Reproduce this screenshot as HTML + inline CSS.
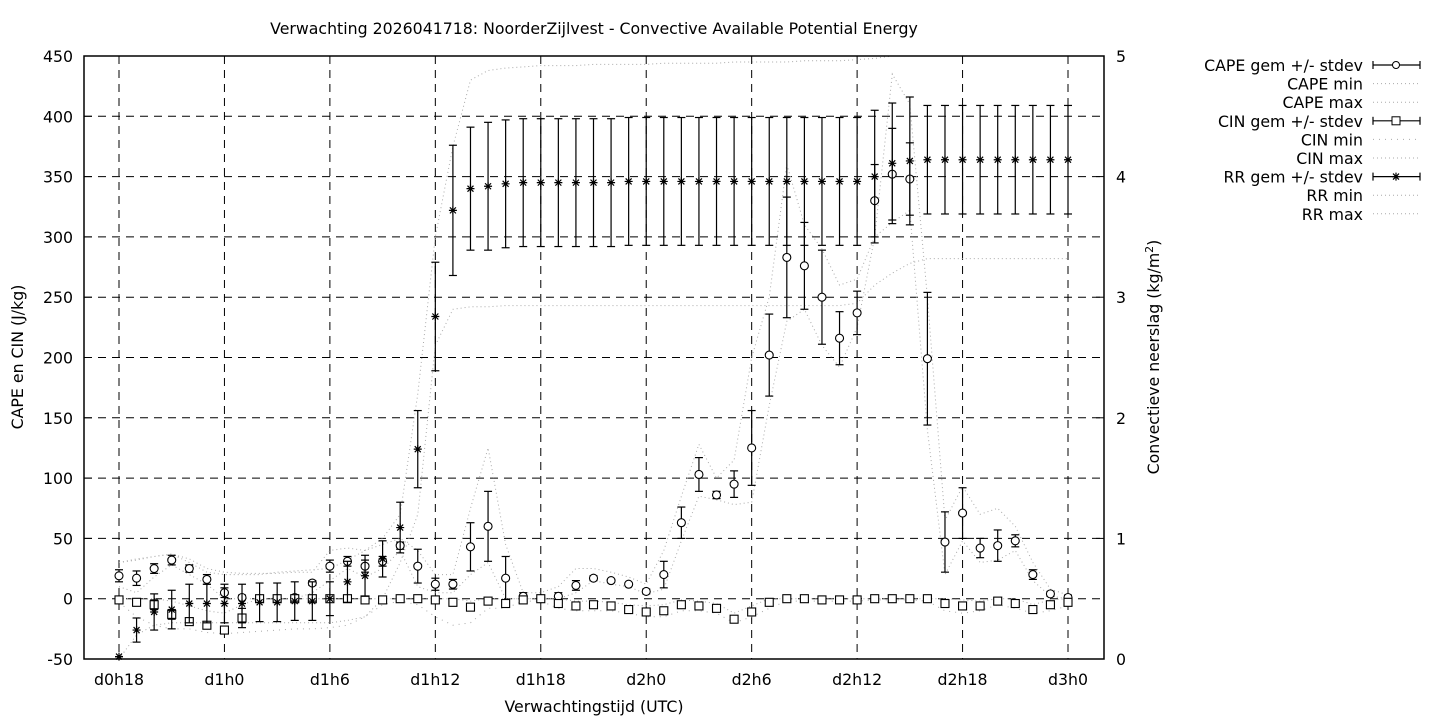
<!DOCTYPE html>
<html><head><meta charset="utf-8"><style>
body{margin:0;background:#fff;width:1440px;height:720px;overflow:hidden}
svg{font-family:"DejaVu Sans","Liberation Sans",sans-serif;font-size:15.75px}
</style></head><body>
<svg id="chart" width="1440" height="720" xmlns="http://www.w3.org/2000/svg">
<rect width="1440" height="720" fill="#fff"/>
<text x="594" y="34" text-anchor="middle">Verwachting 2026041718: NoorderZijlvest - Convective Available Potential Energy</text>
<text x="594" y="712" text-anchor="middle">Verwachtingstijd (UTC)</text>
<text transform="translate(23,357) rotate(-90)" text-anchor="middle">CAPE en CIN (J/kg)</text>
<text transform="translate(1159,357) rotate(-90)" text-anchor="middle">Convectieve neerslag (kg/m<tspan font-size="11" dy="-6">2</tspan><tspan dy="6">)</tspan></text>
<g id="grid"></g>
<g id="lines"></g>
<g id="marks"></g>
<g id="axes"></g>
<g id="legend"></g>
</svg>
<script>
const hours=[18,19,20,21,22,23,24,25,26,27,28,29,30,31,32,33,34,35,36,37,38,39,40,41,42,43,44,45,46,47,48,49,50,51,52,53,54,55,56,57,58,59,60,61,62,63,64,65,66,67,68,69,70,71,72];
const xTickLabels=["d0h18","d1h0","d1h6","d1h12","d1h18","d2h0","d2h6","d2h12","d2h18","d3h0"];
const xTickHours=[18,24,30,36,42,48,54,60,66,72];
const yTicks=[-50,0,50,100,150,200,250,300,350,400,450];
const y2Ticks=[0,1,2,3,4,5];
const capeMean=[19,17,25,32,25,16,5,1,0,0,1,13,27,31,27,31,44,27,12,12,43,60,17,2,0,2,11,17,15,12,6,20,63,103,86,95,125,202,283,276,250,216,237,330,352,348,199,47,71,42,44,48,20,4,1];
const capeSd=[5,6,4,4,3,4,4,2,2,2,2,2,5,4,5,4,3,14,5,4,20,29,18,3,3,3,4,2,1,1,2,11,13,14,3,11,31,34,50,36,39,22,18,30,38,30,55,25,21,8,13,5,4,2,2];
const capeMin=[10,5,18,28,20,12,0,0,0,0,0,5,15,25,18,25,40,10,5,5,20,30,0,0,0,0,5,15,12,10,4,8,48,85,82,78,80,160,230,240,210,192,225,300,312,322,140,20,48,30,32,40,15,2,0];
const capeMax=[30,32,35,37,33,25,22,21,21,21,22,22,40,42,40,45,50,40,20,20,75,125,45,5,5,10,25,25,22,18,12,40,85,128,100,115,200,250,360,310,290,260,265,300,435,410,250,65,93,70,75,60,30,8,3];
const cinMean=[-1,-3,-5,-13,-19,-22,-26,-16,0,0,0,0,0,0,-1,-1,0,0,-1,-3,-7,-2,-4,-1,0,-4,-6,-5,-6,-9,-11,-10,-5,-6,-8,-17,-11,-3,0,0,-1,-1,-1,0,0,0,0,-4,-6,-6,-2,-4,-9,-5,-3];
const cinSd=[2,2,4,4,3,3,3,8,1,1,1,1,1,1,1,1,1,1,2,3,3,2,3,1,1,3,2,2,2,2,3,3,3,2,2,3,3,3,1,1,1,1,1,1,1,1,1,3,3,3,2,2,3,3,3];
const cinMin=[-3,-15,-22,-25,-25,-28,-29,-28,-27,-26,-25,-25,-24,-22,-15,-5,-2,-5,-15,-22,-20,-8,-8,-2,-2,-8,-10,-10,-10,-12,-15,-15,-10,-10,-12,-20,-15,-8,-2,-2,-2,-2,-2,-1,-1,-1,-2,-10,-12,-10,-5,-8,-12,-10,-6];
const cinMax=[0,0,0,-2,-6,-10,-12,-5,0,0,0,0,0,0,0,0,0,0,0,0,-2,0,0,0,0,0,-2,-2,-3,-5,-6,-5,-1,-2,-4,-12,-6,0,0,0,0,0,0,0,0,0,0,0,-1,-2,0,0,-5,-1,0];
const rrMean=[0.02,0.24,0.39,0.41,0.46,0.46,0.46,0.46,0.47,0.47,0.48,0.48,0.50,0.64,0.69,0.83,1.09,1.74,2.84,3.72,3.90,3.92,3.94,3.95,3.95,3.95,3.95,3.95,3.95,3.96,3.96,3.96,3.96,3.96,3.96,3.96,3.96,3.96,3.96,3.96,3.96,3.96,3.96,4.00,4.11,4.13,4.14,4.14,4.14,4.14,4.14,4.14,4.14,4.14,4.14];
const rrSd=[0.0,0.10,0.15,0.16,0.16,0.16,0.16,0.16,0.16,0.16,0.16,0.16,0.14,0.17,0.17,0.15,0.21,0.32,0.45,0.54,0.51,0.53,0.53,0.53,0.53,0.53,0.53,0.53,0.53,0.53,0.53,0.53,0.53,0.53,0.53,0.53,0.53,0.53,0.53,0.53,0.53,0.53,0.53,0.55,0.50,0.53,0.45,0.45,0.45,0.45,0.45,0.45,0.45,0.45,0.45];
const rrMin=[0.0,0.2,0.28,0.3,0.3,0.3,0.3,0.3,0.3,0.3,0.3,0.3,0.3,0.32,0.35,0.5,0.8,1.2,2.6,2.9,2.92,2.92,2.93,2.93,2.93,2.93,2.93,2.93,2.93,2.93,2.93,2.93,2.93,2.93,2.93,2.93,2.93,2.93,2.93,2.93,2.93,2.93,2.95,3.1,3.2,3.28,3.32,3.32,3.32,3.32,3.32,3.32,3.32,3.32,3.32];
const rrMax=[0.8,0.83,0.85,0.87,0.8,0.72,0.7,0.7,0.7,0.72,0.73,0.74,0.75,0.82,0.9,1.0,1.2,2.2,3.5,4.25,4.8,4.88,4.9,4.91,4.92,4.92,4.92,4.93,4.93,4.93,4.93,4.94,4.94,4.94,4.94,4.95,4.95,4.95,4.95,4.96,4.96,4.96,4.97,4.98,5.0,5.0,5.0,5.0,5.0,5.0,5.0,5.0,5.0,5.0,5.0];

const L=84,R=1104,T=56,B=659;
const NS='http://www.w3.org/2000/svg';
function X(h){return 119+(h-18)*(1068-119)/54;}
function Y(v){return B-(v+50)*(B-T)/500;}
function Y2(v){return B-v*(B-T)/5;}
function el(tag,attrs,parent){const e=document.createElementNS(NS,tag);for(const k in attrs)e.setAttribute(k,attrs[k]);parent.appendChild(e);return e;}
const grid=document.getElementById('grid'),lines=document.getElementById('lines'),marks=document.getElementById('marks'),axes=document.getElementById('axes'),legend=document.getElementById('legend');

yTicks.forEach(v=>{
  const y=Y(v);
  if(v>-50&&v<450){const g=el('line',{x1:L,x2:R,y1:y,y2:y,stroke:'#000','stroke-width':1,'stroke-dasharray':'8,6'},grid);
  
  }
  const t=el('text',{x:L-11,y:y+6,'text-anchor':'end'},axes);t.textContent=v;
  
  
  el('line',{x1:L,x2:L+8,y1:y,y2:y,stroke:'#000'},axes);
});
y2Ticks.forEach(v=>{
  const y=Y2(v);
  const t=el('text',{x:R+12,y:y+6,'text-anchor':'start'},axes);t.textContent=v;
  
  
  el('line',{x1:R-8,x2:R,y1:y,y2:y,stroke:'#000'},axes);
});
xTickHours.forEach((h,i)=>{
  const x=X(h);
  const g=el('line',{x1:x,x2:x,y1:T,y2:B,stroke:'#000','stroke-width':1,'stroke-dasharray':'8,6'},grid);
  
  
  const t=el('text',{x:x,y:B+26,'text-anchor':'middle'},axes);t.textContent=xTickLabels[i];
  
  
});
const frame=el('rect',{x:L,y:T,width:R-L,height:B-T,fill:'none',stroke:'#000','stroke-width':1.5},axes);



function poly(arr,fy,name,dash){
  const pts=arr.map((v,i)=>X(hours[i]).toFixed(1)+','+fy(v).toFixed(1)).join(' ');
  const p=el('polyline',{points:pts,fill:'none',stroke:'#aaa','stroke-width':1,'stroke-dasharray':dash},lines);
  
  
}
poly(capeMin,Y,'cape-min-line','1,3');
poly(capeMax,Y,'cape-max-line','1,3');
poly(cinMin,Y,'cin-min-line','1,5');
poly(cinMax,Y,'cin-max-line','1,3');
poly(rrMin,Y2,'rr-min-line','1,3');
poly(rrMax,Y2,'rr-max-line','1,3');

function errbar(x,yc,ylo,yhi,g){
  el('line',{x1:x,x2:x,y1:ylo,y2:yhi,stroke:'#000','stroke-width':1.2},g);
  el('line',{x1:x-4,x2:x+4,y1:ylo,y2:ylo,stroke:'#000','stroke-width':1.2},g);
  el('line',{x1:x-4,x2:x+4,y1:yhi,y2:yhi,stroke:'#000','stroke-width':1.2},g);
}
function star(x,y,g){
  el('path',{d:`M${x-4} ${y}H${x+4}M${x} ${y-4}V${y+4}M${x-3} ${y-3}L${x+3} ${y+3}M${x-3} ${y+3}L${x+3} ${y-3}`,stroke:'#000','stroke-width':1.2},g);
}
hours.forEach((h,i)=>{
  const x=X(h);
  const g1=el('g',{},marks);
  
  
  errbar(x,Y(capeMean[i]),Y(capeMean[i]-capeSd[i]),Y(capeMean[i]+capeSd[i]),g1);
  el('circle',{cx:x,cy:Y(capeMean[i]),r:4,fill:'#fff',stroke:'#000','stroke-width':1.1},g1);
  const g2=el('g',{},marks);
  
  
  errbar(x,Y(cinMean[i]),Y(cinMean[i]-cinSd[i]),Y(cinMean[i]+cinSd[i]),g2);
  el('rect',{x:x-4,y:Y(cinMean[i])-4,width:8,height:8,fill:'#fff',stroke:'#000','stroke-width':1.1},g2);
  const g3=el('g',{},marks);
  
  
  errbar(x,Y2(rrMean[i]),Y2(rrMean[i]-rrSd[i]),Y2(rrMean[i]+rrSd[i]),g3);
  star(x,Y2(rrMean[i]),g3);
});

const legendLabels=["CAPE gem +/- stdev","CAPE min","CAPE max","CIN gem +/- stdev","CIN min","CIN max","RR gem +/- stdev","RR min","RR max"];
const legendKinds=["circle","dot","dot","square","dot2","dot","star","dot","dot"];
legendLabels.forEach((lab,i)=>{
  const y=65+i*18.6;
  const g=el('g',{},legend);
  
  
  const t=el('text',{x:1363,y:y+6,'text-anchor':'end'},g);t.textContent=lab;
  const k=legendKinds[i];
  if(k.startsWith('dot')){
    el('line',{x1:1373,x2:1420,y1:y,y2:y,stroke:'#aaa','stroke-dasharray':k==='dot2'?'1,5':'1,3'},g);
  }else{
    el('line',{x1:1373,x2:1420,y1:y,y2:y,stroke:'#000','stroke-width':1.2},g);
    el('line',{x1:1373,x2:1373,y1:y-4,y2:y+4,stroke:'#000','stroke-width':1.2},g);
    el('line',{x1:1420,x2:1420,y1:y-4,y2:y+4,stroke:'#000','stroke-width':1.2},g);
    const cx=1396;
    if(k==='circle')el('circle',{cx:cx,cy:y,r:3.5,fill:'#fff',stroke:'#000'},g);
    if(k==='square')el('rect',{x:cx-4,y:y-4,width:8,height:8,fill:'#fff',stroke:'#000'},g);
    if(k==='star')star(cx,y,g);
  }
});
</script>
</body></html>
